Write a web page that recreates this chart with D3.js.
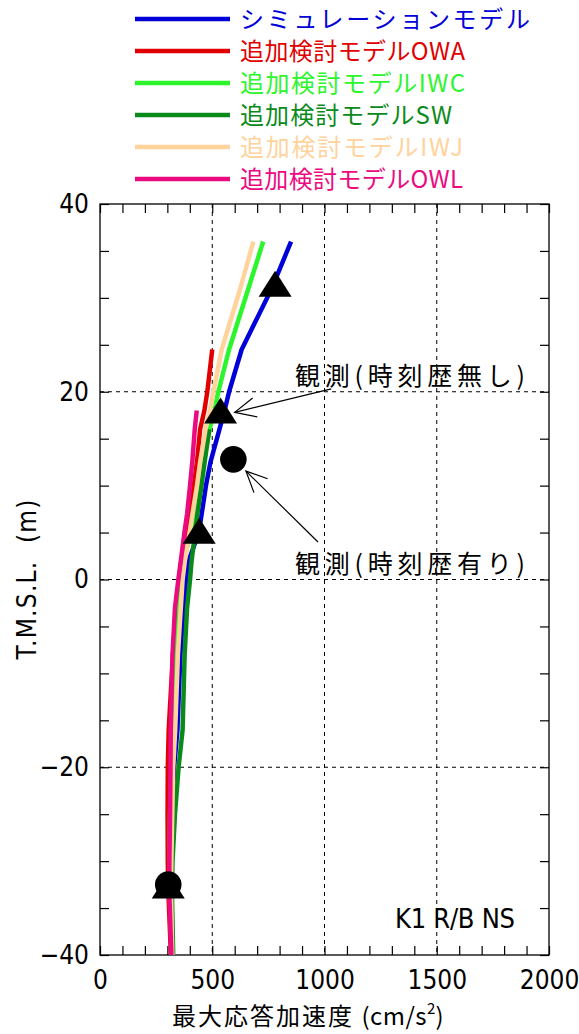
<!DOCTYPE html>
<html>
<head>
<meta charset="utf-8">
<script src="https://cdn.jsdelivr.net/npm/d3@7"></script>
<style>
  html, body { margin: 0; padding: 0; background: #fff; }
  svg { display: block; }
  .num { font-family: "Liberation Sans Narrow", "DejaVu Sans Condensed", "Liberation Sans", sans-serif; }
  .jp  { font-family: "Noto Sans CJK JP", "Noto Sans CJK SC", sans-serif; }
</style>
</head>
<body>
<svg id="chart" width="579" height="1034"></svg>
<script>
// Elevation levels (T.M.S.L., m) at which the response is tabulated
const depthLevels = [36, 31, 24.5, 20, 18, 16, 12.5, 10, 7, 5, 2, 0, -3, -8, -16, -20, -25, -30, -33, -40];

// Maximum response acceleration (cm/s^2) per model; null = above the model top
const simulationModel = [851, 765, 631, 575, 555, 532, 492, 472, 453, 440, 395, 383, 372, 358, 345, 330, 322, 316, 314, 322];
const modelOWA        = [null, null, 500, 478, 465, 446, 432, 418, 400, 386, 362, 352, 338, 325, 306, 302, 301, 302, 304, 316];
const modelIWC        = [727, 661, 575, 527, 510, 488, 460, 442, 420, 405, 372, 362, 352, 338, 328, 318, 312, 310, 310, 320];
const modelSW         = [null, null, null, null, null, 487, 466, 452, 434, 424, 408, 401, 388, 377, 368, 350, 334, 323, 320, 326];
const modelIWJ        = [683, 625, 542, 505, 490, 470, 446, 432, 412, 399, 378, 368, 360, 347, 335, 326, 322, 318, 316, 322];
const modelOWL        = [null, null, null, null, 431, 422, 411, 401, 388, 376, 360, 349, 334, 323, 315, 314, 312, 309, 308, 318];

const seriesNames  = ["シミュレーションモデル", "追加検討モデルOWA", "追加検討モデルIWC", "追加検討モデルSW", "追加検討モデルIWJ", "追加検討モデルOWL"];
const seriesColors = ["#0000d8", "#e00000", "#2cf52c", "#0b8a1c", "#ffd39c", "#ec0a80"];
const seriesValues = [simulationModel, modelOWA, modelIWC, modelSW, modelIWJ, modelOWL];
const legendWidths = [290, 225, 225, 212, 223, 223];

// Observed peaks: without time history (triangles) and with time history (circles)
const obsNoHistoryAcc = [780, 537, 442, 304];
const obsNoHistoryEl  = [31.5, 18.0, 5.2, -32.6];
const obsHistoryAcc   = [594, 304];
const obsHistoryEl    = [12.8, -32.5];

// Axis ticks
const xTicks = [0, 500, 1000, 1500, 2000];
const yTicks = [-40, -20, 0, 20, 40];
const xMinor = d3.range(0, 2001, 100);
const yMinor = d3.range(-40, 41, 5);

// Callouts: label, tail (acc, el) and arrow tip (acc, el)
const calloutLabels = ["観測(時刻歴無し)", "観測(時刻歴有り)"];
const calloutTail   = [[1030, 20.3], [971, 4.0]];
const calloutTip    = [[600, 17.8], [650, 11.55]];

const svg = d3.select("#chart");
const x = d3.scaleLinear().domain([0, 2000]).range([100, 549]);
const y = d3.scaleLinear().domain([-40, 40]).range([955, 204]);

// dashed grid at the major ticks
const grid = svg.append("g").attr("stroke", "#000").attr("stroke-width", 1).attr("stroke-dasharray", "4,4");
grid.selectAll("line.gx").data(xTicks.slice(1, -1)).join("line")
  .attr("x1", d => x(d)).attr("x2", d => x(d)).attr("y1", y(40)).attr("y2", y(-40));
grid.selectAll("line.gy").data(yTicks.slice(1, -1)).join("line")
  .attr("x1", x(0)).attr("x2", x(2000)).attr("y1", d => y(d)).attr("y2", d => y(d));

// axes with inward ticks on all four sides
const fmtX = d => xTicks.includes(d) ? d : "";
const fmtY = d => yTicks.includes(d) ? d : "";
const axB = svg.append("g").attr("transform", `translate(0,${y(-40)})`)
  .call(d3.axisBottom(x).tickValues(xMinor).tickSize(-9).tickSizeOuter(0).tickPadding(16).tickFormat(fmtX));
const axL = svg.append("g").attr("transform", `translate(${x(0)},0)`)
  .call(d3.axisLeft(y).tickValues(yMinor).tickSize(-9).tickSizeOuter(0).tickPadding(11).tickFormat(fmtY));
const axT = svg.append("g").attr("transform", `translate(0,${y(40)})`)
  .call(d3.axisTop(x).tickValues(xMinor).tickSize(-9).tickSizeOuter(0).tickFormat(""));
const axR = svg.append("g").attr("transform", `translate(${x(2000)},0)`)
  .call(d3.axisRight(y).tickValues(yMinor).tickSize(-9).tickSizeOuter(0).tickFormat(""));
[axB, axL, axT, axR].forEach(a => {
  a.select(".domain").remove();
  a.selectAll("line").attr("stroke", "#000").attr("stroke-width", 1.2);
  a.selectAll("text").attr("class", "num").attr("font-size", 26).attr("fill", "#000");
});
axB.selectAll("text").attr("dy", "0.71em");
axB.selectAll("text").text(d => fmtX(d) === "" ? "" : String(d));
axL.selectAll("text").text(d => fmtY(d) === "" ? "" : String(d).replace("-", "\u2212"));
// drop the empty minor-tick labels so only real labels remain
axB.selectAll("text").filter(function () { return this.textContent === ""; }).remove();
axL.selectAll("text").filter(function () { return this.textContent === ""; }).remove();

// plot frame
svg.append("rect").attr("x", x(0)).attr("y", y(40))
  .attr("width", x(2000) - x(0)).attr("height", y(-40) - y(40))
  .attr("fill", "none").attr("stroke", "#000").attr("stroke-width", 1.3);

// response profiles
const line = d3.line()
  .defined(d => d.v != null)
  .x(d => x(d.v)).y(d => y(d.el));
seriesValues.forEach((vals, i) => {
  const pts = depthLevels.map((el, k) => ({ el, v: vals[k] }));
  svg.append("path").datum(pts)
    .attr("d", line)
    .attr("fill", "none")
    .attr("stroke", seriesColors[i])
    .attr("stroke-width", 4.5)
    .attr("stroke-linejoin", "round");
});

// observed markers
const tri = (cx, cy) => `M${cx},${cy - 13}L${cx - 16.5},${cy + 13}L${cx + 16.5},${cy + 13}Z`;
svg.append("g").selectAll("path").data(d3.range(obsNoHistoryAcc.length)).join("path")
  .attr("d", k => tri(x(obsNoHistoryAcc[k]), y(obsNoHistoryEl[k])))
  .attr("fill", "#000");
svg.append("g").selectAll("circle").data(d3.range(obsHistoryAcc.length)).join("circle")
  .attr("cx", k => x(obsHistoryAcc[k])).attr("cy", k => y(obsHistoryEl[k]))
  .attr("r", 13.3).attr("fill", "#000");

// callouts with open arrowheads
calloutLabels.forEach((lab, i) => {
  const [tx, ty] = [x(calloutTail[i][0]), y(calloutTail[i][1])];
  const [hx, hy] = [x(calloutTip[i][0]), y(calloutTip[i][1])];
  const ang = Math.atan2(ty - hy, tx - hx);
  const L = 23, a = 25 * Math.PI / 180;
  const g = svg.append("g").attr("stroke", "#000").attr("stroke-width", 1.2).attr("fill", "none");
  g.append("line").attr("x1", tx).attr("y1", ty).attr("x2", hx).attr("y2", hy);
  g.append("path").attr("d",
    `M${hx + L * Math.cos(ang + a)},${hy + L * Math.sin(ang + a)}L${hx},${hy}L${hx + L * Math.cos(ang - a)},${hy + L * Math.sin(ang - a)}`);
});
svg.append("text").attr("class", "jp").attr("x", 295).attr("y", 385)
  .attr("font-size", 25).attr("textLength", 230).attr("lengthAdjust", "spacing")
  .text(calloutLabels[0]);
svg.append("text").attr("class", "jp").attr("x", 295).attr("y", 573)
  .attr("font-size", 25).attr("textLength", 230).attr("lengthAdjust", "spacing")
  .text(calloutLabels[1]);

// station label
svg.append("text").attr("class", "num").attr("x", 395).attr("y", 928)
  .attr("font-size", 27).attr("textLength", 120).attr("lengthAdjust", "spacing")
  .attr("xml:space", "preserve").text("K1 R/B NS");

// legend
seriesNames.forEach((name, i) => {
  const ly = 19 + 32 * i;
  svg.append("line").attr("x1", 135).attr("x2", 230).attr("y1", ly).attr("y2", ly)
    .attr("stroke", seriesColors[i]).attr("stroke-width", 4.5);
  svg.append("text").attr("class", "jp").attr("x", 240).attr("y", ly + 9)
    .attr("font-size", 24).attr("fill", seriesColors[i])
    .attr("textLength", legendWidths[i]).attr("lengthAdjust", "spacing")
    .text(name);
});

// axis titles
const xt = svg.append("text").attr("class", "jp").attr("x", 172).attr("y", 1025)
  .attr("font-size", 24);
xt.append("tspan").attr("letter-spacing", 2).text("最大応答加速度 ");
xt.append("tspan").attr("letter-spacing", 0.5).text("(cm/s");
xt.append("tspan").attr("font-size", 15).attr("dy", -11).text("2");
xt.append("tspan").attr("dy", 11).text(")");

svg.append("text").attr("class", "num")
  .attr("transform", `translate(36,${(y(40) + y(-40)) / 2}) rotate(-90)`)
  .attr("text-anchor", "middle").attr("font-size", 26)
  .attr("textLength", 160).attr("lengthAdjust", "spacing")
  .attr("xml:space", "preserve").text("T.M.S.L.  (m)");
</script>
</body>
</html>
